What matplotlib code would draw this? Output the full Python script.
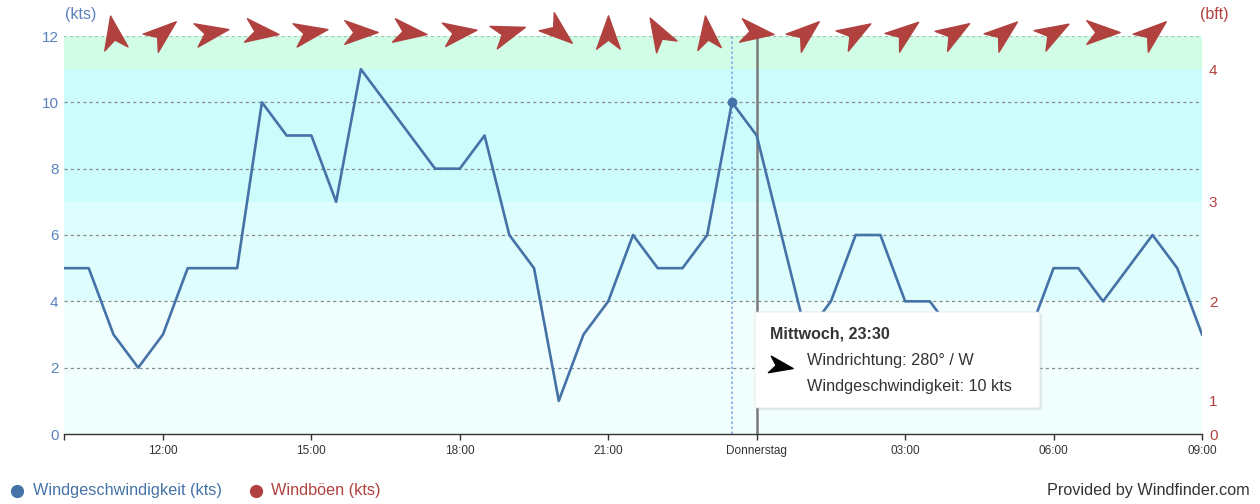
import matplotlib.pyplot as plt
import numpy as np
from matplotlib.path import Path
from matplotlib.markers import MarkerStyle
from matplotlib.transforms import Affine2D
from matplotlib.patches import FancyBboxPatch
from matplotlib.lines import Line2D

plt.rcParams['font.family'] = ['Liberation Sans', 'DejaVu Sans']

# half-hourly wind speed, Wednesday 10:00 -> Thursday 09:00
times = ['10:00', '10:30', '11:00', '11:30', '12:00', '12:30', '13:00', '13:30',
         '14:00', '14:30', '15:00', '15:30', '16:00', '16:30', '17:00', '17:30',
         '18:00', '18:30', '19:00', '19:30', '20:00', '20:30', '21:00', '21:30',
         '22:00', '22:30', '23:00', '23:30', '00:00', '00:30', '01:00', '01:30',
         '02:00', '02:30', '03:00', '03:30', '04:00', '04:30', '05:00', '05:30',
         '06:00', '06:30', '07:00', '07:30', '08:00', '08:30', '09:00']
speed_kts = [5, 5, 3, 2, 3, 5, 5, 5, 10, 9, 9, 7, 11, 10, 9, 8,
             8, 9, 6, 5, 1, 3, 4, 6, 5, 5, 6, 10, 9, 6, 3, 4,
             6, 6, 4, 4, 3, 3, 3, 3, 5, 5, 4, 5, 6, 5, 3]

# hourly wind direction (degrees, where the wind comes from)
arrow_times = ['11:00', '12:00', '13:00', '14:00', '15:00', '16:00', '17:00', '18:00',
               '19:00', '20:00', '21:00', '22:00', '23:00', '00:00', '01:00', '02:00',
               '03:00', '04:00', '05:00', '06:00', '07:00', '08:00']
wind_dir = [170, 230, 260, 277, 260, 270, 277, 262, 252, 310, 180, 150,
            173, 277, 230, 239, 232, 238, 231, 240, 270, 230]

# beaufort scale on the right axis
bft_kts = [0, 1, 4, 7, 11]
bft_labels = ['0', '1', '2', '3', '4']
band_edges = [0, 4, 7, 11, 12]
band_colors = ['#f0fffe', '#defefe', '#cdfcfd', '#d1fde6']

x_ticks = ['10:00', '12:00', '15:00', '18:00', '21:00', '00:00', '03:00', '06:00', '09:00']
x_labels = ['', '12:00', '15:00', '18:00', '21:00', 'Donnerstag', '03:00', '06:00', '09:00']

BLUE = '#4572a7'
TICK_BLUE = '#5a82bf'
RED = '#b0413e'
W, H = 1260, 504


def to_hours(t):
    h, m = t.split(':')
    h = int(h)
    if h < 10:
        h += 24
    return h + int(m) / 60


def px(x, y):
    return x / W, 1 - y / H


# navigation style arrow, tip pointing up
arrow_path = Path([(0, 0.875), (0.62, -0.875), (0, -0.4), (-0.62, -0.875), (0, 0.875)],
                  [Path.MOVETO, Path.LINETO, Path.LINETO, Path.LINETO, Path.CLOSEPOLY])


def arrow_marker(from_deg):
    pointing = (from_deg + 180) % 360
    return MarkerStyle(arrow_path, transform=Affine2D().rotate_deg(-pointing))


hours = [to_hours(t) for t in times]

fig = plt.figure(figsize=(W / 100, H / 100), dpi=100)
ax = fig.add_axes([64 / W, 1 - 434 / H, (1202 - 64) / W, (434 - 36) / H])
ax.set_xlim(10, 33)
ax.set_ylim(0, 12)

for lo, hi, c in zip(band_edges[:-1], band_edges[1:], band_colors):
    ax.axhspan(lo, hi, color=c, lw=0, zorder=0)

for y in [2, 4, 6, 8, 10]:
    ax.axhline(y, color='#8a8a8a', lw=0.9, ls=(0, (2.5, 2.5)), zorder=1)
ax.axhline(12, color='#9cc2aa', lw=1.6, ls=(0, (1.2, 1.6)), zorder=1)

ax.axvline(to_hours('23:30'), color='#86a9ec', lw=1.2, ls=(0, (1.5, 1.5)), zorder=2)
ax.axvline(to_hours('00:00'), color='#7a7a7a', lw=1.8, zorder=2)

ax.plot(hours, speed_kts, color=BLUE, lw=1.9, zorder=4)
ax.plot(to_hours('23:30'), speed_kts[times.index('23:30')], 'o', color=BLUE, ms=6, zorder=5)

for t, d in zip(arrow_times, wind_dir):
    ax.plot(to_hours(t), 12.12, ls='none', marker=arrow_marker(d), ms=24,
            color=RED, clip_on=False, zorder=6)

for side in ['top', 'left', 'right']:
    ax.spines[side].set_visible(False)
ax.spines['bottom'].set_color('#333333')
ax.spines['bottom'].set_linewidth(1)

ax.set_xticks([to_hours(t) for t in x_ticks])
ax.set_xticklabels(x_labels)
ax.tick_params(axis='x', length=4, width=1, color='#333333', pad=4,
               labelsize=8.5, labelcolor='#333333')
ax.set_yticks([0, 2, 4, 6, 8, 10, 12])
ax.tick_params(axis='y', length=0, pad=4, labelsize=11, labelcolor=TICK_BLUE)

ax2 = ax.twinx()
ax2.set_ylim(0, 12)
ax2.set_yticks(bft_kts)
ax2.set_yticklabels(bft_labels)
ax2.tick_params(axis='y', length=0, pad=5, labelsize=11, labelcolor=RED)
for side in ['top', 'left', 'right', 'bottom']:
    ax2.spines[side].set_visible(False)

fig.text(*px(65, 15), '(kts)', color=TICK_BLUE, fontsize=11.5, ha='left', va='center')
fig.text(*px(1200, 15), '(bft)', color=RED, fontsize=11.5, ha='left', va='center')

# tooltip
shadow = FancyBboxPatch(px(757, 410), 285 / W, 96 / H, transform=fig.transFigure,
                        boxstyle='round,pad=0,rounding_size=0.003',
                        fc='#000000', ec='none', alpha=0.08, zorder=8)
box = FancyBboxPatch(px(755, 408), 285 / W, 96 / H, transform=fig.transFigure,
                     boxstyle='round,pad=0,rounding_size=0.003',
                     fc='white', ec='#e6e6e6', lw=0.6, zorder=9)
fig.add_artist(shadow)
fig.add_artist(box)
fig.text(*px(770, 334), 'Mittwoch, 23:30', fontsize=11.5, fontweight='bold',
         color='#333333', ha='left', va='center', zorder=10)
fig.add_artist(Line2D([px(781, 366)[0]], [px(781, 366)[1]], transform=fig.transFigure,
                      ls='none', marker=arrow_marker(280), ms=17, color='black', zorder=10))
fig.text(*px(807, 361), 'Windrichtung: 280° / W', fontsize=11.7,
         color='#333333', ha='left', va='center', zorder=10)
fig.text(*px(807, 386), 'Windgeschwindigkeit: 10 kts', fontsize=11.7,
         color='#333333', ha='left', va='center', zorder=10)

# legend and credit
fig.add_artist(Line2D([px(17, 491)[0]], [px(17, 491)[1]], transform=fig.transFigure,
                      ls='none', marker='o', ms=8.5, color=BLUE))
fig.text(*px(33, 491), 'Windgeschwindigkeit (kts)', fontsize=11.7, color=BLUE,
         ha='left', va='center')
fig.add_artist(Line2D([px(256, 491)[0]], [px(256, 491)[1]], transform=fig.transFigure,
                      ls='none', marker='o', ms=8.5, color=RED))
fig.text(*px(271, 491), 'Windböen (kts)', fontsize=11.7, color=RED, ha='left', va='center')
fig.text(*px(1250, 491), 'Provided by Windfinder.com', fontsize=11.7, color='#333333',
         ha='right', va='center')

fig.savefig('out.png', dpi=100)
